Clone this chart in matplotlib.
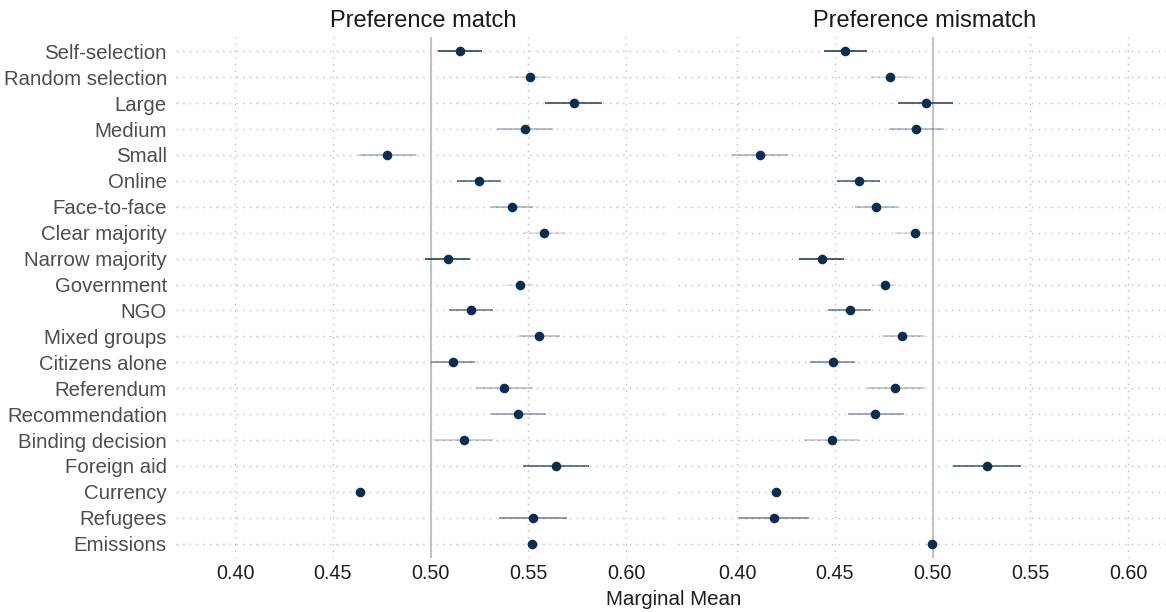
import matplotlib
matplotlib.use("Agg")
import matplotlib.pyplot as plt
import numpy as np

plt.rcParams['font.family'] = ['Liberation Sans', 'DejaVu Sans']

categories = ["Self-selection", "Random selection", "Large", "Medium", "Small",
              "Online", "Face-to-face", "Clear majority", "Narrow majority",
              "Government", "NGO", "Mixed groups", "Citizens alone", "Referendum",
              "Recommendation", "Binding decision", "Foreign aid", "Currency",
              "Refugees", "Emissions"]

match_est = [0.5150, 0.5508, 0.5732, 0.5482, 0.4778, 0.5248, 0.5417, 0.5578, 0.5087, 0.5456,
             0.5209, 0.5554, 0.5114, 0.5374, 0.5449, 0.5171, 0.5643, 0.4641, 0.5523, 0.5518]
match_lo = [0.5040, 0.5400, 0.5585, 0.5340, 0.4632, 0.5133, 0.5308, 0.5480, 0.4973, 0.5380,
            0.5096, 0.5451, 0.5000, 0.5232, 0.5308, 0.5014, 0.5475, 0.4610, 0.5350, 0.5490]
match_hi = [0.5262, 0.5610, 0.5875, 0.5626, 0.4925, 0.5359, 0.5526, 0.5690, 0.5202, 0.5530,
            0.5321, 0.5663, 0.5226, 0.5525, 0.5593, 0.5321, 0.5812, 0.4670, 0.5697, 0.5550]

mismatch_est = [0.4552, 0.4781, 0.4965, 0.4918, 0.4119, 0.4623, 0.4713, 0.4912, 0.4433, 0.4758,
                0.4576, 0.4846, 0.4492, 0.4809, 0.4708, 0.4487, 0.5278, 0.4198, 0.4191, 0.4997]
mismatch_lo = [0.4443, 0.4680, 0.4823, 0.4776, 0.3972, 0.4511, 0.4604, 0.4810, 0.4315, 0.4690,
               0.4464, 0.4739, 0.4375, 0.4665, 0.4566, 0.4340, 0.5107, 0.4170, 0.4009, 0.4970]
mismatch_hi = [0.4664, 0.4890, 0.5107, 0.5058, 0.4261, 0.4730, 0.4821, 0.5010, 0.4546, 0.4820,
               0.4683, 0.4954, 0.4602, 0.4954, 0.4853, 0.4622, 0.5454, 0.4230, 0.4366, 0.5030]

ci_alpha = [0.9, 0.15, 0.85, 0.35, 0.35, 0.7, 0.35, 0.15, 0.9, 0.1,
            0.6, 0.3, 0.55, 0.3, 0.45, 0.25, 0.75, 0.1, 0.55, 0.1]

xticks = [0.40, 0.45, 0.50, 0.55, 0.60]
xticklabels = ["0.40", "0.45", "0.50", "0.55", "0.60"]
titles = ["Preference match", "Preference mismatch"]

W, H = 1166, 612
fig = plt.figure(figsize=(W / 100, H / 100), dpi=100)

navy = "#0b2e50"
grid_col = "#bdbdbd"

panels = [(match_est, match_lo, match_hi), (mismatch_est, mismatch_lo, mismatch_hi)]
lefts = [176, 678]
pw = 494
top, bottom = 37, 558

n = len(categories)
ypos = np.arange(n)

for i, (est, lo, hi) in enumerate(panels):
    ax = fig.add_axes([lefts[i] / W, 1 - bottom / H, pw / W, (bottom - top) / H])
    ax.set_xlim(0.3698, 0.6225)
    ax.set_ylim(n - 1 + 0.55, -0.55)
    for s in ax.spines.values():
        s.set_visible(False)
    # grid
    for xt in xticks:
        ax.axvline(xt, color=grid_col, lw=1.0, dashes=(1, 3.8), zorder=0)
    for y in ypos:
        ax.axhline(y, color=grid_col, lw=1.0, dashes=(1, 3.8), zorder=0)
    ax.axvline(0.5, color="#bdbdbd", lw=1.3, zorder=1)
    for y in ypos:
        ax.plot([lo[y], hi[y]], [y, y], color=navy, lw=1.2, alpha=ci_alpha[y],
                solid_capstyle='butt', zorder=2)
    ax.scatter(est, ypos, s=48, color=navy, zorder=3, linewidths=0)
    ax.set_xticks(xticks)
    ax.set_xticklabels(xticklabels, fontsize=14.2, color="#1e1e1e")
    ax.tick_params(axis='x', length=0, pad=4)
    ax.set_yticks(ypos)
    if i == 0:
        ax.set_yticklabels(categories, fontsize=14.7, color="#4d4d4d")
        ax.tick_params(axis='y', length=0, pad=6.5)
    else:
        ax.set_yticklabels([])
        ax.tick_params(axis='y', length=0)
    cx = (lefts[i] + pw / 2) / W
    fig.text(cx, 1 - 27 / H, titles[i], ha='center', va='baseline', fontsize=17, color="#1a1a1a")

fig.text(674 / W, 1 - 605 / H, "Marginal Mean", ha='center', va='baseline', fontsize=14.8, color="#1e1e1e")

fig.savefig("out.png", dpi=100)
